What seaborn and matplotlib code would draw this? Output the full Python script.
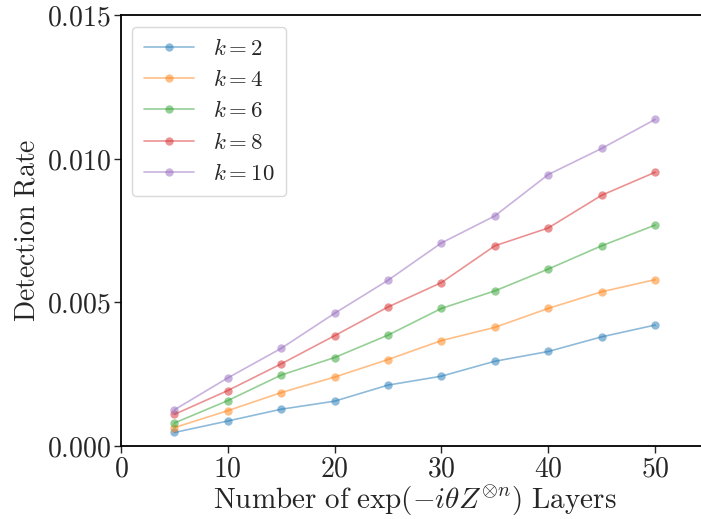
import numpy as np
import pandas as pd
import matplotlib
matplotlib.use("Agg")
import matplotlib.pyplot as plt
import seaborn as sns

# values
layers = [5, 10, 15, 20, 25, 30, 35, 40, 45, 50]
k_values = [2, 4, 6, 8, 10]
rate_k2 = [0.00047, 0.00087, 0.00128, 0.00156, 0.00212, 0.00243, 0.00295, 0.00329, 0.00380, 0.00421]
rate_k4 = [0.00064, 0.00123, 0.00186, 0.00240, 0.00301, 0.00367, 0.00413, 0.00479, 0.00537, 0.00579]
rate_k6 = [0.00080, 0.00158, 0.00247, 0.00308, 0.00386, 0.00479, 0.00540, 0.00616, 0.00697, 0.00769]
rate_k8 = [0.00110, 0.00193, 0.00286, 0.00384, 0.00484, 0.00569, 0.00697, 0.00759, 0.00873, 0.00953]
rate_k10 = [0.00126, 0.00237, 0.00340, 0.00462, 0.00577, 0.00707, 0.00801, 0.00945, 0.01036, 0.01137]

x_ticks = [0, 10, 20, 30, 40, 50]
y_ticks = [0.0, 0.005, 0.010, 0.015]
y_tick_labels = ["0.000", "0.005", "0.010", "0.015"]

sns.set_style("ticks")
plt.rcParams["mathtext.fontset"] = "cm"
plt.rcParams["font.family"] = ["DejaVu Serif"]

rates = [rate_k2, rate_k4, rate_k6, rate_k8, rate_k10]
rows = []
for k, r in zip(k_values, rates):
    for x, v in zip(layers, r):
        rows.append({"layers": x, "rate": v, "k": r"$k=%d$" % k})
df = pd.DataFrame(rows)

fig = plt.figure(figsize=(7.01, 5.19), dpi=100)
ax = fig.add_axes([0.1726, 0.1407, 0.838, 0.830])

palette = sns.color_palette("tab10", 5)
sns.lineplot(data=df, x="layers", y="rate", hue="k", palette=palette,
             marker="o", markersize=6, markeredgewidth=0, linewidth=1.2,
             alpha=0.5, ax=ax, legend=True)

for s in ax.spines.values():
    s.set_linewidth(1.3)
    s.set_color("black")

ax.set_xlim(0, 55)
ax.set_ylim(0, 0.015)
ax.set_xticks(x_ticks)
ax.set_xticklabels([r"$%d$" % t for t in x_ticks])
ax.set_yticks(y_ticks)
ax.set_yticklabels([r"$%s$" % t for t in y_tick_labels])
ax.tick_params(axis="both", labelsize=20, length=5, width=1.0, pad=2, direction="out")

ax.set_xlabel(r"$\mathrm{Number\ of\ }\exp(-i\theta Z^{\otimes n})\mathrm{\ Layers}$", fontsize=21, labelpad=1)
ax.set_ylabel(r"$\mathrm{Detection\ Rate}$", fontsize=20, labelpad=5)

handles, labels = ax.get_legend_handles_labels()
leg = ax.legend(handles, labels, loc="upper left", fontsize=16.5, frameon=True,
                fancybox=True, framealpha=0.8, edgecolor="#d0d0d0",
                borderpad=0.5, labelspacing=0.4, handlelength=2.2,
                bbox_to_anchor=(0.0, 1.0), borderaxespad=0.5)
leg.get_frame().set_linewidth(1.0)

fig.savefig("out.png", dpi=100)
